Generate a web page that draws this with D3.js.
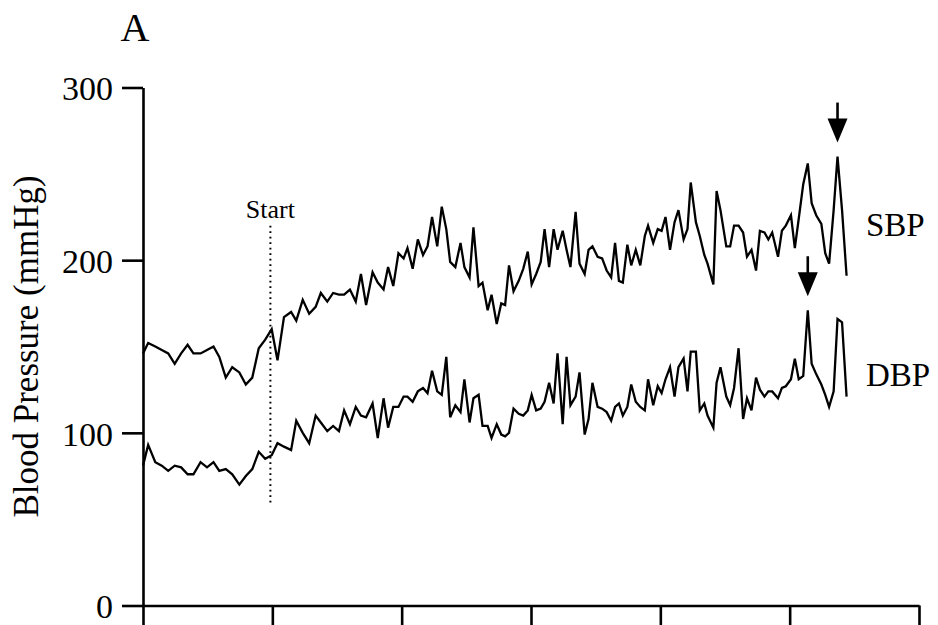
<!DOCTYPE html>
<html>
<head>
<meta charset="utf-8">
<script src="https://cdn.jsdelivr.net/npm/d3@7"></script>
<style>
  body { margin: 0; background: #fff; }
  svg { display: block; }
</style>
</head>
<body>
<script>

// DATI

var days = [0, 0.8, 1.9, 2.9, 3.9, 4.9, 5.9, 6.9, 7.8, 8.9,
  9.9, 10.9, 11.8, 12.8, 13.8, 14.9, 15.9, 16.9, 17.9, 18.9,
  19.9, 20.8, 21.8, 22.9, 23.7, 24.7, 25.7, 26.7, 27.5, 28.5,
  29.4, 30.3, 31.1, 32.0, 32.9, 33.7, 34.5, 35.5, 36.3, 37.2,
  37.9, 38.7, 39.5, 40.3, 40.9, 41.7, 42.5, 43.3, 44.0, 44.7,
  45.5, 46.2, 46.9, 47.5, 48.3, 49.1, 49.7, 50.5, 51.1, 51.9,
  52.5, 53.3, 53.9, 54.7, 55.4, 56.0, 56.6, 57.3, 58.1, 58.8,
  59.5, 60.1, 60.8, 61.5, 62.1, 62.8, 63.5, 64.1, 64.9, 65.5,
  66.1, 66.9, 67.5, 68.3, 68.9, 69.5, 70.3, 71.0, 71.7, 72.4,
  73.0, 73.6, 74.2, 74.9, 75.5, 76.2, 76.9, 77.6, 78.1, 78.9,
  79.6, 80.2, 80.8, 81.5, 82.2, 82.8, 83.6, 84.2, 84.7, 85.5,
  86.1, 86.8, 87.3, 88.2, 88.7, 89.3, 90.2, 90.8, 91.4, 92.1,
  92.8, 93.4, 94.1, 94.8, 95.4, 96.1, 96.7, 97.3, 98.2, 98.8,
  99.4, 100.2, 100.8, 101.4, 102.1, 102.8, 103.4, 104.1, 104.9, 105.5,
  106.1, 106.8, 107.4, 108.1, 108.8];

var sbp = [146, 152, 150, 148, 146, 140, 146, 151, 146, 146,
  148, 150, 144, 132, 138, 135, 128, 132, 149, 154,
  160, 142, 167, 170, 165, 177, 169, 173, 181, 176,
  181, 180, 180, 183, 176, 192, 174, 193, 187, 183,
  196, 185, 204, 201, 207, 195, 212, 203, 208, 225,
  208, 231, 218, 199, 196, 210, 196, 190, 219, 185,
  187, 171, 180, 163, 175, 174, 197, 182, 188, 195,
  205, 186, 192, 199, 218, 196, 218, 206, 217, 206,
  196, 228, 198, 192, 206, 208, 202, 201, 194, 190,
  210, 188, 187, 209, 197, 206, 197, 214, 220, 210,
  218, 217, 225, 206, 222, 229, 212, 218, 245, 222,
  214, 203, 198, 186, 240, 229, 208, 208, 220, 220,
  216, 202, 206, 194, 217, 216, 212, 216, 202, 217,
  220, 226, 207, 224, 244, 256, 233, 226, 221, 204,
  198, 229, 260, 229, 191];

var dbp = [81, 93, 83, 81, 78, 81, 80, 76, 76, 83,
  80, 83, 78, 79, 76, 70, 75, 79, 89, 85,
  87, 94, 92, 90, 107, 100, 94, 110, 106, 101,
  104, 101, 113, 105, 115, 110, 109, 117, 97, 120,
  103, 115, 115, 121, 121, 118, 124, 126, 123, 136,
  124, 122, 144, 109, 116, 112, 131, 106, 120, 122,
  104, 104, 97, 105, 99, 98, 100, 114, 111, 110,
  113, 122, 113, 114, 118, 129, 117, 146, 105, 144,
  116, 121, 135, 99, 108, 129, 115, 114, 112, 107,
  115, 117, 110, 115, 128, 118, 115, 113, 131, 116,
  127, 123, 131, 138, 121, 138, 143, 124, 147, 147,
  113, 117, 110, 103, 129, 138, 121, 116, 126, 149,
  108, 120, 113, 132, 125, 121, 124, 124, 120, 126,
  127, 131, 143, 131, 133, 171, 140, 134, 128, 122,
  115, 124, 166, 164, 121];

var yTicks = [0, 100, 200, 300];
var xTicks = [0, 20, 40, 60, 80, 100, 120];
var startDay = 19.7;
var seriesNames = ["SBP", "DBP"];

var font = "'Liberation Serif', 'Times New Roman', serif";

// INIZIALIZZA L'SVG

var svg = d3.select("body")
    .append("svg")
    .attr("width", 938)
    .attr("height", 625);

var x = d3.scaleLinear().domain([0, 120]).range([143, 919]);
var y = d3.scaleLinear().domain([0, 300]).range([605.5, 87.5]);

// ASSI

var yAxis = svg.append("g")
    .attr("transform", "translate(" + x(0) + ",0)")
    .call(d3.axisLeft(y).tickValues(yTicks).tickSize(21).tickSizeOuter(0).tickPadding(9));

var xAxis = svg.append("g")
    .attr("transform", "translate(0," + y(0) + ")")
    .call(d3.axisBottom(x).tickValues(xTicks).tickSize(21).tickSizeOuter(0).tickFormat(""));

svg.selectAll(".domain, .tick line")
    .attr("stroke", "black")
    .attr("stroke-width", 2.6);

yAxis.selectAll("text")
    .attr("font-family", font)
    .attr("font-size", "34px")
    .attr("fill", "black")
    .attr("dy", "0.36em");

// TITOLI

svg.append("text")
    .attr("x", 135)
    .attr("y", 41)
    .attr("text-anchor", "middle")
    .attr("font-family", font)
    .attr("font-size", "40px")
    .text("A");

svg.append("text")
    .attr("transform", "translate(38," + y(150) + ") rotate(-90)")
    .attr("text-anchor", "middle")
    .attr("font-family", font)
    .attr("font-size", "35px")
    .text("Blood Pressure (mmHg)");

// LINEA DI INIZIO

svg.append("line")
    .attr("x1", x(startDay))
    .attr("x2", x(startDay))
    .attr("y1", y(220))
    .attr("y2", y(58))
    .attr("stroke", "black")
    .attr("stroke-width", 2)
    .attr("stroke-dasharray", "1.8 3.7");

svg.append("text")
    .attr("x", x(startDay))
    .attr("y", y(220) - 8)
    .attr("text-anchor", "middle")
    .attr("font-family", font)
    .attr("font-size", "26px")
    .text("Start");

// LINEE SBP E DBP

var line = d3.line()
    .x(function(d, i) { return x(days[i]); })
    .y(function(d) { return y(d); });

[sbp, dbp].forEach(function(values, k) {
    svg.append("path")
        .datum(values)
        .attr("d", line)
        .attr("fill", "none")
        .attr("stroke", "black")
        .attr("stroke-width", 2.3)
        .attr("stroke-linejoin", "miter");

    svg.append("text")
        .attr("x", 866)
        .attr("y", y(values === sbp ? 214 : 127))
        .attr("font-family", font)
        .attr("font-size", "33px")
        .text(seriesNames[k]);
});

// FRECCE SUI PICCHI

function drawArrow(values) {
    var i = d3.maxIndex(values);
    var ax = x(days[i]);
    var tip = y(values[i]) - 14;

    svg.append("line")
        .attr("x1", ax)
        .attr("x2", ax)
        .attr("y1", tip - 40)
        .attr("y2", tip - 20)
        .attr("stroke", "black")
        .attr("stroke-width", 2.6);

    svg.append("polygon")
        .attr("points", (ax - 10) + "," + (tip - 24) + " " + (ax + 10) + "," + (tip - 24) + " " + ax + "," + tip)
        .attr("fill", "black");
}

drawArrow(sbp);
drawArrow(dbp);

</script>
</body>
</html>
